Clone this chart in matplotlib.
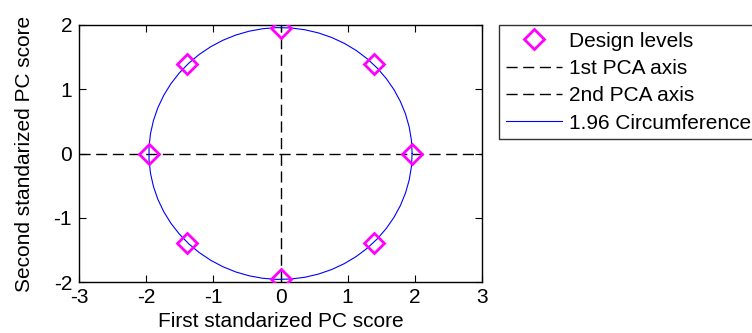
import numpy as np
import matplotlib
matplotlib.use("Agg")
import matplotlib.pyplot as plt

plt.rcParams['font.family'] = ['Liberation Sans', 'DejaVu Sans']
plt.rcParams['axes.unicode_minus'] = False

# design points (standardized PC scores)
design_x = [0, 1.386, 1.96, 1.386, 0, -1.386, -1.96, -1.386]
design_y = [1.96, 1.386, 0, -1.386, -1.96, -1.386, 0, 1.386]

pca1_x = [-3, 3]
pca1_y = [0, 0]
pca2_x = [0, 0]
pca2_y = [-2, 2]

radius = 1.96
theta = np.linspace(0, 2 * np.pi, 60)
circ_x = radius * np.cos(theta)
circ_y = radius * np.sin(theta)

fig = plt.figure(figsize=(7.52, 3.33), dpi=100)
ax = fig.add_axes([79 / 752, 1 - 282 / 333, 403 / 752, 257 / 333])

ax.plot(design_x, design_y, linestyle='none', marker='D', markersize=10,
        markerfacecolor='none', markeredgecolor='#ff00ff', markeredgewidth=2,
        label='Design levels', zorder=3)
ax.plot(pca1_x, pca1_y, 'k--', lw=1, dashes=(8, 4), label='1st PCA axis')
ax.plot(pca2_x, pca2_y, 'k--', lw=1, dashes=(8, 4), label='2nd PCA axis')
ax.plot(circ_x, circ_y, color='#0000ff', lw=0.8, label='1.96 Circumference')

ax.set_xlim(-3, 3)
ax.set_ylim(-2, 2)
ax.set_xticks([-3, -2, -1, 0, 1, 2, 3])
ax.set_yticks([-2, -1, 0, 1, 2])
ax.tick_params(direction='in', length=5, labelsize=15, top=True, right=True,
               labeltop=False, labelright=False)
ax.tick_params(axis='x', pad=4)
ax.tick_params(axis='y', pad=5)
ax.set_xlabel('First standarized PC score', fontsize=15, labelpad=4)
ax.set_ylabel('Second standarized PC score', fontsize=15, labelpad=14)
for s in ax.spines.values():
    s.set_linewidth(1)

leg = ax.legend(loc='upper left', bbox_to_anchor=(499 / 752, 1 - 25 / 333),
                bbox_transform=fig.transFigure, fontsize=15, frameon=True,
                fancybox=False, edgecolor='black', handlelength=2.7,
                handletextpad=0.35, labelspacing=0.4, borderpad=0.32,
                borderaxespad=0, numpoints=1)
leg.get_frame().set_linewidth(1)

fig.savefig('out.png', dpi=100)
